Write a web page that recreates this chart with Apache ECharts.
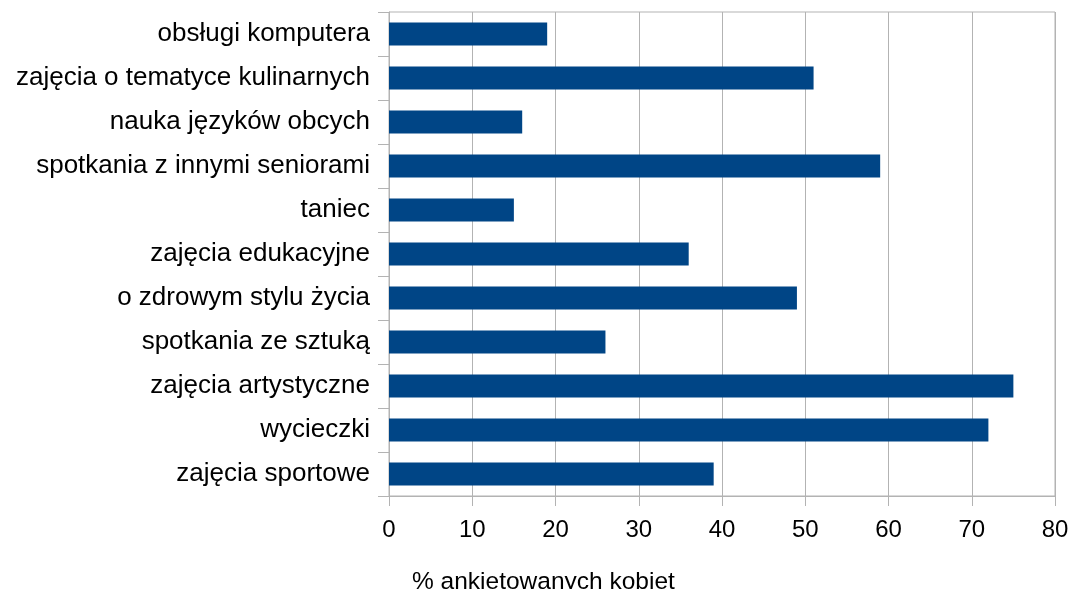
<!DOCTYPE html>
<html>
<head>
<meta charset="utf-8">
<script src="https://cdn.jsdelivr.net/npm/echarts@6/dist/echarts.min.js"></script>
<style>
  html, body { margin: 0; padding: 0; background: #fff; }
  #chart { width: 1072px; height: 589px; }
</style>
</head>
<body>
<div id="chart"></div>
<script>
const categories = [
  "obsługi komputera",
  "zajęcia o tematyce kulinarnych",
  "nauka języków obcych",
  "spotkania z innymi seniorami",
  "taniec",
  "zajęcia edukacyjne",
  "o zdrowym stylu życia",
  "spotkania ze sztuką",
  "zajęcia artystyczne",
  "wycieczki",
  "zajęcia sportowe"
];
const values = [19, 51, 16, 59, 15, 36, 49, 26, 75, 72, 39];
const axisName = "% ankietowanych kobiet";

const chart = echarts.init(document.getElementById("chart"));
chart.setOption({
  animation: false,
  // axis title sits centred under the whole picture, not under the plot
  title: {
    text: axisName,
    left: 407,
    top: 565,
    textStyle: { fontFamily: "Liberation Sans", fontSize: 24.5, fontWeight: "normal", color: "#000" }
  },
  grid: {
    left: 389, right: 17, top: 12, bottom: 93,
    show: true, borderColor: "#b3b3b3", borderWidth: 1
  },
  xAxis: {
    type: "value",
    min: 0, max: 80, interval: 10,
    axisLine: { show: true, lineStyle: { color: "#b3b3b3" } },
    axisTick: { show: true, length: 10, lineStyle: { color: "#b3b3b3" } },
    axisLabel: { fontFamily: "Liberation Sans", fontSize: 24, color: "#000", margin: 22 },
    splitLine: { show: true, lineStyle: { color: "#b3b3b3" } }
  },
  yAxis: {
    type: "category",
    data: categories,
    inverse: true,
    axisLine: { show: true, lineStyle: { color: "#b3b3b3" } },
    axisTick: { show: true, length: 11, lineStyle: { color: "#b3b3b3" } },
    axisLabel: { fontFamily: "Liberation Sans", fontSize: 26, color: "#000", margin: 19 },
    splitLine: { show: false }
  },
  series: [{
    type: "bar",
    data: values,
    barWidth: "52%",
    itemStyle: { color: "#004586" }
  }]
});
</script>
</body>
</html>
